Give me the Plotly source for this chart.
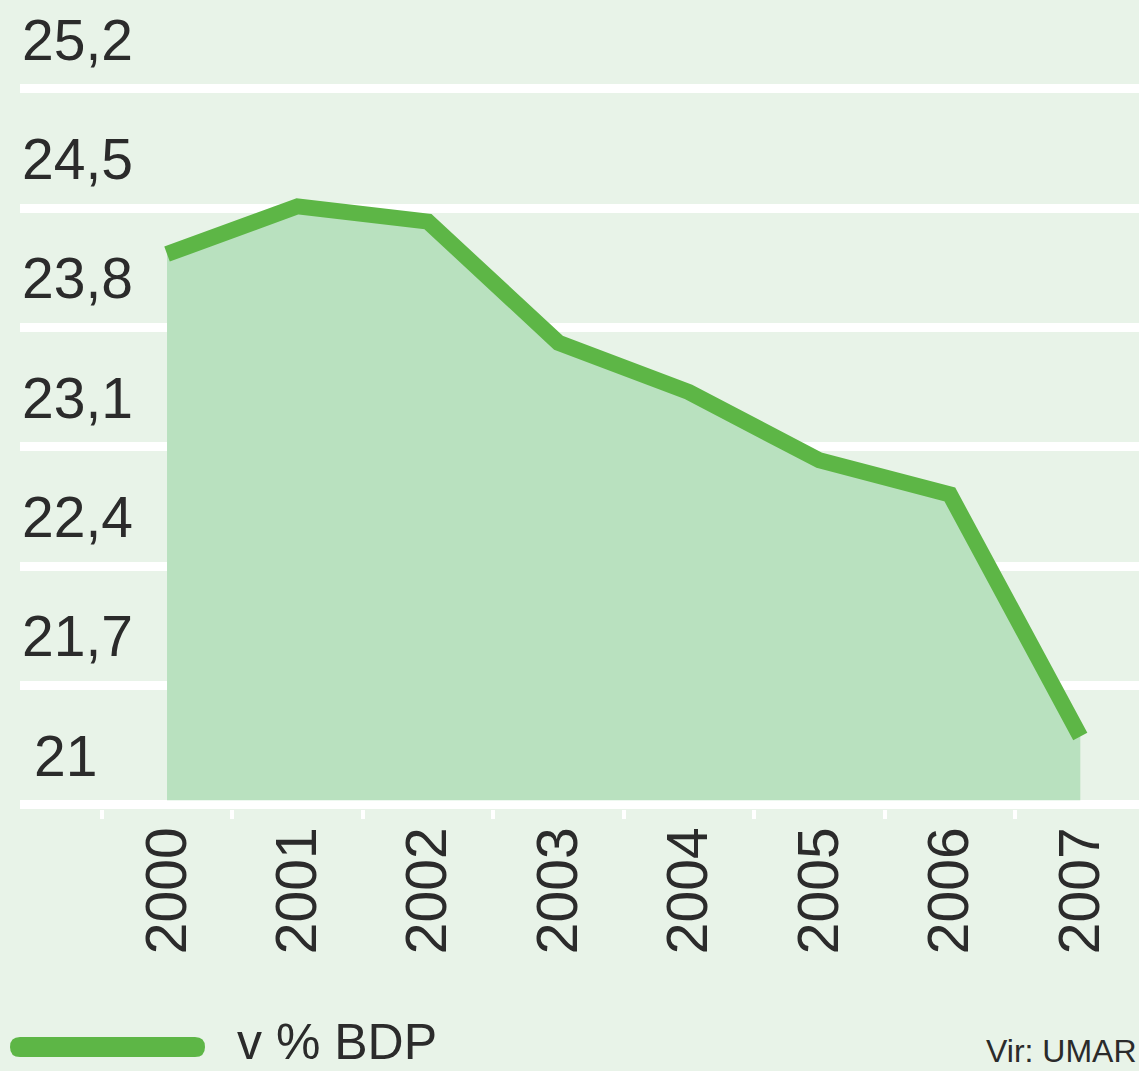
import plotly.graph_objects as go

years = ["2000", "2001", "2002", "2003", "2004", "2005", "2006", "2007"]
values = [24.23, 24.51, 24.42, 23.71, 23.42, 23.02, 22.82, 21.40]
baseline = [21.0] * len(years)
y_ticks = [25.2, 24.5, 23.8, 23.1, 22.4, 21.7, 21.0]
y_tick_labels = ["25,2", "24,5", "23,8", "23,1", "22,4", "21,7", "21"]
legend_label = "v % BDP"
source_label = "Vir: UMAR"

BG = "#e8f3e8"
FILL = "#b9e1bf"
LINE = "#5db646"
TXT = "#2b2b2b"
NUM_FONT = "Liberation Sans, Arial, sans-serif"
NARROW_FONT = "Liberation Sans Narrow, Arial Narrow, Liberation Sans, sans-serif"

fig = go.Figure()
fig.add_trace(go.Scatter(x=years, y=baseline, mode="lines", line=dict(width=0),
                         hoverinfo="skip", showlegend=False))
fig.add_trace(go.Scatter(x=years, y=values, mode="lines", fill="tonexty",
                         fillcolor=FILL, line=dict(color=LINE, width=16),
                         showlegend=False))

annotations = []
for v, lab in zip(y_ticks, y_tick_labels):
    annotations.append(dict(xref="paper", yref="y", x=0 if lab != "21" else 0.011, y=v,
                            xanchor="left", yanchor="bottom", yshift=15,
                            text=lab, showarrow=False,
                            font=dict(family=NUM_FONT, size=57, color=TXT)))

annotations.append(dict(xref="paper", yref="paper", x=0.192, y=-0.294,
                        xanchor="left", yanchor="middle", text=legend_label,
                        showarrow=False, yshift=5,
                        font=dict(family=NARROW_FONT, size=50, color=TXT)))
annotations.append(dict(xref="paper", yref="paper", x=1.0, y=-0.322,
                        xanchor="right", yanchor="bottom", text=source_label,
                        showarrow=False, yshift=-2,
                        font=dict(family=NARROW_FONT, size=32, color=TXT)))

# rounded legend swatch (pixel offsets from plot's bottom-left corner)
left, right, top, bot, r = -10, 185, -228, -248, 10
swatch_path = (f"M{left + r},{bot} L{right - r},{bot} Q{right},{bot} {right},{bot + r} "
               f"Q{right},{top} {right - r},{top} L{left + r},{top} "
               f"Q{left},{top} {left},{top - r} Q{left},{bot} {left + r},{bot} Z")

shapes = [
    dict(type="line", xref="paper", yref="y", x0=0, x1=1, y0=21, y1=21,
         line=dict(color="white", width=9), layer="above"),
    dict(type="path", xref="paper", yref="paper", xsizemode="pixel", ysizemode="pixel",
         xanchor=0, yanchor=0, path=swatch_path, fillcolor=LINE,
         line=dict(width=0), layer="above"),
]

fig.update_layout(
    width=1139, height=1071,
    margin=dict(l=20, r=0, t=0, b=262),
    paper_bgcolor=BG, plot_bgcolor=BG,
    annotations=annotations, shapes=shapes,
    xaxis=dict(type="category", range=[-1.127, 7.45], showgrid=False,
               zeroline=False, showline=False,
               ticks="outside", tickson="boundaries", ticklen=9, tickwidth=4,
               tickcolor="white", tickangle=-90, ticklabelstandoff=6,
               tickfont=dict(family=NUM_FONT, size=57, color=TXT)),
    yaxis=dict(range=[20.975, 25.72], tickvals=y_ticks, showticklabels=False,
               showgrid=True, gridcolor="white", gridwidth=9,
               zeroline=False, showline=False, ticks=""),
)

fig.write_html("out.html", config={"displayModeBar": False},
               post_script="document.body.style.margin='0';document.body.style.background='" + BG + "';")
